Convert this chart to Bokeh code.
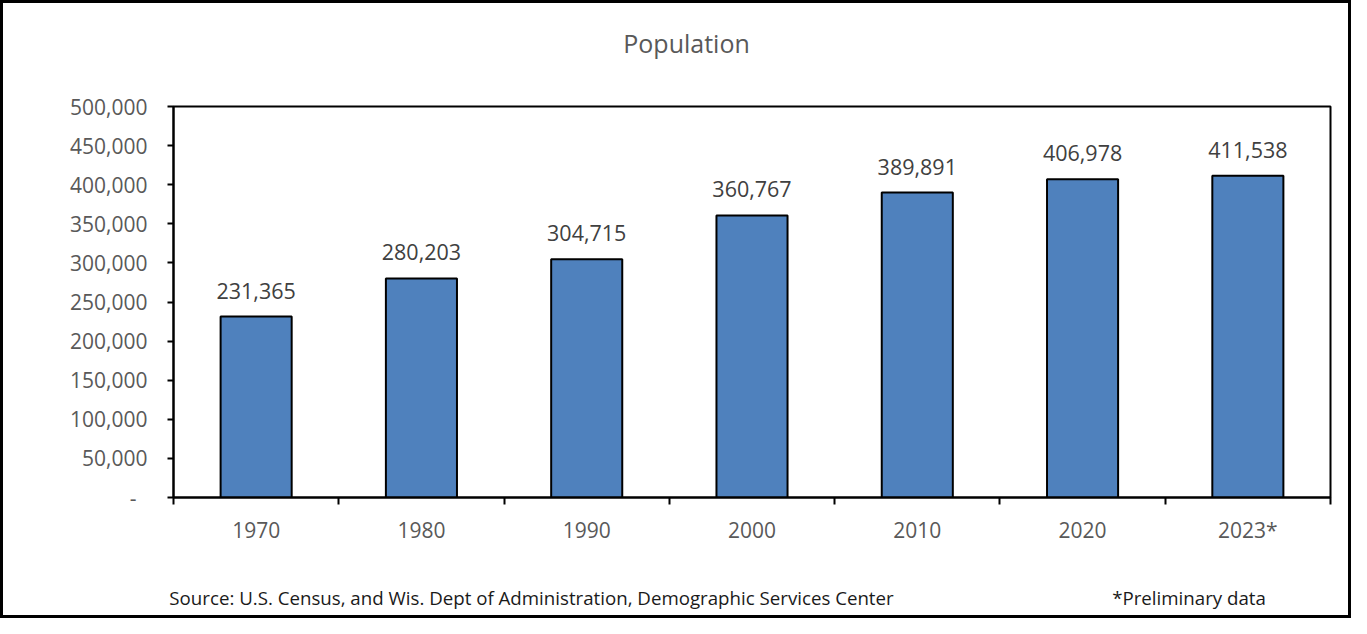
from bokeh.plotting import figure
from bokeh.models import (Range1d, FixedTicker, NumeralTickFormatter, LinearAxis,
                          ColumnDataSource)
from bokeh.core.properties import value
from bokeh.embed import file_html
from bokeh.resources import INLINE

# ---- data ----
years = ["1970", "1980", "1990", "2000", "2010", "2020", "2023*"]
population = [231365, 280203, 304715, 360767, 389891, 406978, 411538]
y_ticks = [0, 50000, 100000, 150000, 200000, 250000, 300000, 350000, 400000, 450000, 500000]
title_text = "Population"
source_text = "Source: U.S. Census, and Wis. Dept of Administration, Demographic Services Center"
note_text = "*Preliminary data"
title_anchor = [3.104]           # x position (category units) of the title centre
footer_anchor = [2.166, 6.144]   # x positions (category units) of the two footer texts

FONT = "Open Sans"
GRAY = "#595959"
BAR = "#4F81BD"

n = len(years)
centers = [i + 0.5 for i in range(n)]
labels = [f"{v:,}" for v in population]

src = ColumnDataSource(dict(x=centers, top=population, lab=labels))

W, H = 1351, 618
L, R, T, B = 170, 24, 103, 124

p = figure(width=W, height=H, output_backend="svg", toolbar_location=None,
           x_range=Range1d(0, n), y_range=Range1d(0, 500000),
           min_border_left=L, min_border_right=R, min_border_top=T, min_border_bottom=B,
           styles={"border": "3px solid black"})
p.background_fill_color = "white"
p.border_fill_color = "white"
p.outline_line_color = "black"
p.outline_line_width = 2
p.xgrid.visible = False
p.ygrid.visible = False
p.title.visible = False

p.vbar(x="x", top="top", width=0.43, source=src, fill_color=BAR,
       line_color="black", line_width=2)
p.text(x="x", y="top", text="lab", source=src, text_align="center",
       text_baseline="bottom", y_offset=-18, text_font=value(FONT),
       text_font_size="21.5px", text_color="#404040")

# x axis (the figure's own bottom axis)
xa = p.below[0]
xa.ticker = FixedTicker(ticks=centers, minor_ticks=list(range(n + 1)))
xa.major_label_overrides = {c: y for c, y in zip(centers, years)}
xa.major_tick_line_color = None
xa.major_tick_out = 0
xa.major_tick_in = 0
xa.minor_tick_out = 7
xa.minor_tick_in = 0
xa.minor_tick_line_color = "black"
xa.minor_tick_line_width = 2
xa.axis_line_color = "black"
xa.axis_line_width = 2
xa.major_label_text_font = FONT
xa.major_label_text_font_size = "21px"
xa.major_label_text_color = GRAY
xa.major_label_standoff = 11

# y axis
ya = p.left[0]
ya.ticker = FixedTicker(ticks=y_ticks)
ya.formatter = NumeralTickFormatter(format="0,0")
ya.major_label_overrides = {0: "-\u00a0\u00a0"}
ya.major_tick_out = 6
ya.major_tick_in = 0
ya.major_tick_line_color = "black"
ya.major_tick_line_width = 2
ya.minor_tick_line_color = None
ya.axis_line_color = "black"
ya.axis_line_width = 2
ya.major_label_text_font = FONT
ya.major_label_text_font_size = "21px"
ya.major_label_text_color = GRAY
ya.major_label_standoff = 20

# title, drawn as an unlined axis above the frame
head = LinearAxis(ticker=FixedTicker(ticks=title_anchor, minor_ticks=[]),
                  major_label_overrides={title_anchor[0]: title_text})
head.axis_line_color = None
head.major_tick_line_color = None
head.minor_tick_line_color = None
head.major_tick_out = 0
head.major_tick_in = 0
head.major_label_standoff = 47
head.major_label_text_font = FONT
head.major_label_text_font_size = "25px"
head.major_label_text_color = GRAY
p.add_layout(head, "above")

# footer line (source + note) as an unlined axis below
foot = LinearAxis(ticker=FixedTicker(ticks=footer_anchor, minor_ticks=[]),
                  major_label_overrides={footer_anchor[0]: source_text,
                                         footer_anchor[1]: note_text})
foot.axis_line_color = None
foot.major_tick_line_color = None
foot.minor_tick_line_color = None
foot.major_tick_out = 0
foot.major_tick_in = 0
foot.major_label_standoff = 38
foot.major_label_text_font = FONT
foot.major_label_text_font_size = "18.7px"
foot.major_label_text_color = "#1a1a1a"
p.add_layout(foot, "below")

open("out.html", "w").write(file_html(p, INLINE))
